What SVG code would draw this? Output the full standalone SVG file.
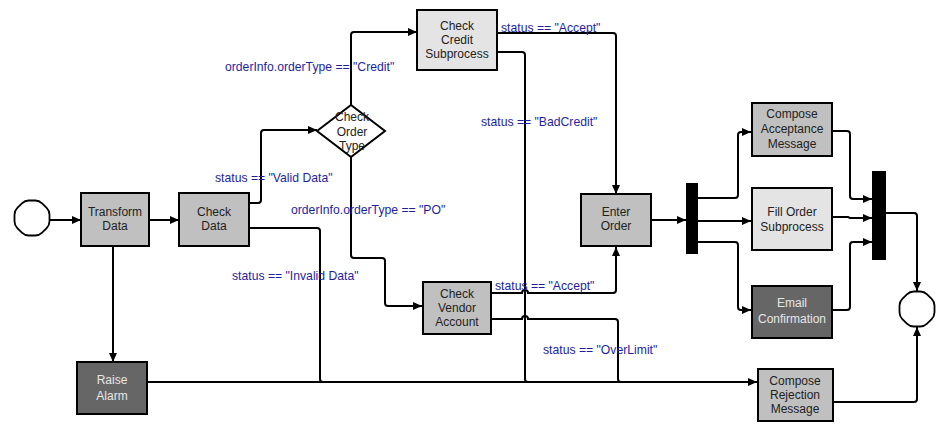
<svg xmlns="http://www.w3.org/2000/svg" width="940" height="424" viewBox="0 0 940 424">
<defs>
<marker id="arr" markerUnits="userSpaceOnUse" markerWidth="10" markerHeight="9" refX="9" refY="4" orient="auto">
<path d="M0,0 L9,4 L0,8 z" fill="#000"/>
</marker>
<path id="oct" d="M-3.25,-17.5 H3.25 Q7.25,-17.5 10.08,-14.67 L14.67,-10.08 Q17.5,-7.25 17.5,-3.25 V3.25 Q17.5,7.25 14.67,10.08 L10.08,14.67 Q7.25,17.5 3.25,17.5 H-3.25 Q-7.25,17.5 -10.08,14.67 L-14.67,10.08 Q-17.5,7.25 -17.5,3.25 V-3.25 Q-17.5,-7.25 -14.67,-10.08 L-10.08,-14.67 Q-7.25,-17.5 -3.25,-17.5 Z"/>
<style>
.n{stroke:#000;stroke-width:2}
.g{fill:#c0c0c0}
.l{fill:#e4e4e4}
.d{fill:#666666}
.t{font-family:"Liberation Sans",Arial,sans-serif;font-size:12px;fill:#222;text-anchor:middle}
.tw{fill:#e6e6e6}
.lb{font-family:"Liberation Sans",Arial,sans-serif;font-size:12.2px;fill:#1f1f9c}
.c{fill:none;stroke:#000;stroke-width:2}
.a{marker-end:url(#arr)}
.ev{fill:#fff;stroke:#000;stroke-width:1.8}
</style>
</defs>
<rect width="940" height="424" fill="#fff"/>
<g id="connectors">
<path class="c a" d="M50,220 H81"/>
<path class="c a" d="M149,220 H179"/>
<path class="c a" d="M113,246 V362"/>
<path class="c a" d="M249,203 H258 q3,0 3,-3 V133 q0,-3 3,-3 H317"/>
<path class="c a" d="M351,105 V35 q0,-3 3,-3 H417"/>
<path class="c a" d="M351,157 V255 q0,3 3,3 H382 q3,0 3,3 V303 q0,3 3,3 H422"/>
<path class="c a" d="M497,33 H613 q3,0 3,3 V194"/>
<path class="c" d="M497,52 H522 q3,0 3,3 V379 q0,3 3,3"/>
<path class="c" d="M249,228 H317 q3,0 3,3 V379 q0,3 3,3"/>
<path class="c a" d="M147,382 H757"/>
<path class="c a" d="M491,293 H522 a3,3 0 0 1 6,0 H613 q3,0 3,-3 V247"/>
<path class="c" d="M491,319 H522 a3,3 0 0 1 6,0 H615 q3,0 3,3 V379 q0,3 3,3"/>
<path class="c a" d="M651,220 H686"/>
<path class="c a" d="M698,198 H735 q3,0 3,-3 V135 q0,-3 3,-3 H751"/>
<path class="c a" d="M698,221 H751"/>
<path class="c a" d="M698,242 H735 q3,0 3,3 V307 q0,3 3,3 H751"/>
<path class="c a" d="M832,131 H847 q3,0 3,3 V196 q0,3 3,3 H872"/>
<path class="c a" d="M832,217 H848 l2,1 H872"/>
<path class="c a" d="M832,310 H847 q3,0 3,-3 V245 q0,-3 3,-3 H872"/>
<path class="c a" d="M886,213 H914 q3,0 3,3 V291"/>
<path class="c a" d="M833,402 H914 q3,0 3,-3 V327"/>
</g>
<g id="labels">
<text class="lb" x="215" y="182">status == "Valid Data"</text>
<text class="lb" x="225" y="71">orderInfo.orderType == "Credit"</text>
<text class="lb" x="501" y="32">status == "Accept"</text>
<text class="lb" x="481" y="126">status == "BadCredit"</text>
<text class="lb" x="291" y="214">orderInfo.orderType == "PO"</text>
<text class="lb" x="232" y="280">status == "Invalid Data"</text>
<text class="lb" x="495" y="290">status == "Accept"</text>
<text class="lb" x="543" y="354">status == "OverLimit"</text>
</g>
<g id="start"><use href="#oct" class="ev" transform="translate(32,218)"/></g>
<g id="transform"><rect class="n g" x="81" y="193" width="68" height="53"/><text class="t" x="115" y="216">Transform</text><text class="t" x="115" y="230">Data</text></g>
<g id="checkdata"><rect class="n g" x="179" y="193" width="70" height="53"/><text class="t" x="214" y="216">Check</text><text class="t" x="214" y="230">Data</text></g>
<g id="raisealarm"><rect class="n d" x="77" y="362" width="70" height="52"/><text class="t tw" x="112" y="384">Raise</text><text class="t tw" x="112" y="400">Alarm</text></g>
<g id="checkordertype"><polygon class="n" fill="#fff" points="317,131 351,105 385,131 351,157"/><text class="t" x="352" y="121">Check</text><text class="t" x="352" y="136">Order</text><text class="t" x="352" y="150">Type</text></g>
<g id="checkcredit"><rect class="n l" x="417" y="10" width="80" height="60"/><text class="t" x="457" y="30">Check</text><text class="t" x="457" y="44">Credit</text><text class="t" x="457" y="58">Subprocess</text></g>
<g id="checkvendor"><rect class="n g" x="423" y="282" width="68" height="52"/><text class="t" x="457" y="298">Check</text><text class="t" x="457" y="312">Vendor</text><text class="t" x="457" y="326">Account</text></g>
<g id="enterorder"><rect class="n g" x="581" y="194" width="70" height="52"/><text class="t" x="616" y="216">Enter</text><text class="t" x="616" y="230">Order</text></g>
<g id="fork"><rect x="686" y="183" width="12" height="71" fill="#000"/></g>
<g id="composeacceptance"><rect class="n g" x="752" y="103" width="80" height="53"/><text class="t" x="792" y="118">Compose</text><text class="t" x="792" y="133">Acceptance</text><text class="t" x="792" y="148">Message</text></g>
<g id="fillorder"><rect class="n l" x="752" y="188" width="80" height="62"/><text class="t" x="792" y="216">Fill Order</text><text class="t" x="792" y="231">Subprocess</text></g>
<g id="emailconfirmation"><rect class="n d" x="752" y="286" width="80" height="52"/><text class="t tw" x="792" y="307">Email</text><text class="t tw" x="792" y="323">Confirmation</text></g>
<g id="join"><rect x="872" y="171" width="14" height="89" fill="#000"/></g>
<g id="composerejection"><rect class="n g" x="758" y="369" width="75" height="52"/><text class="t" x="795" y="385">Compose</text><text class="t" x="795" y="399">Rejection</text><text class="t" x="795" y="413">Message</text></g>
<g id="end"><use href="#oct" class="ev" transform="translate(917,309)"/></g>
</svg>
